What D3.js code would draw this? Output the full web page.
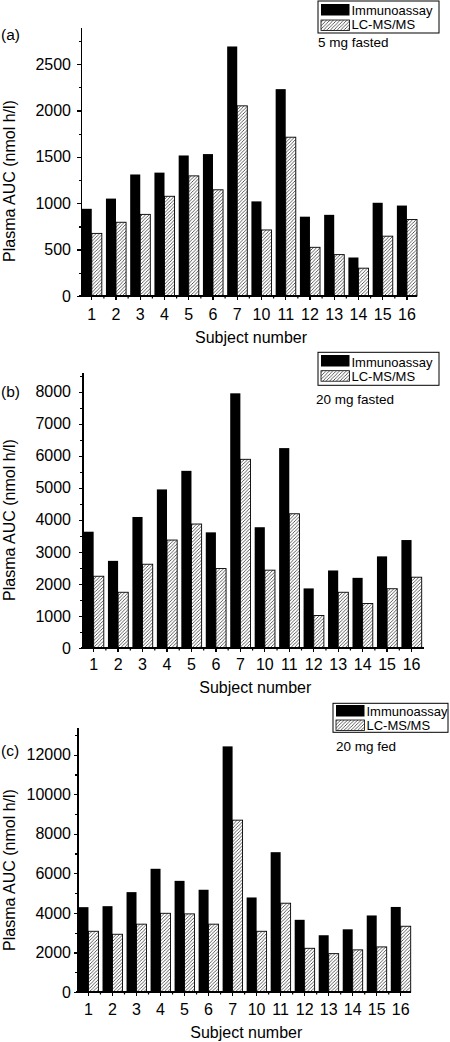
<!DOCTYPE html>
<meta charset="utf-8">
<style>
body { margin: 0; background: #fff; }
svg text { font-family: "Liberation Sans", Arial, Helvetica, sans-serif; fill: #000; }
.axis path, .axis line { stroke: #000; stroke-width: 1.3; shape-rendering: crispEdges; }
.axis text { font-size: 16px; }
</style>
<svg width="450" height="1042"></svg>
<script src="https://cdn.jsdelivr.net/npm/d3@7"></script>
<script>

// data
var subjects = ["1","2","3","4","5","6","7","10","11","12","13","14","15","16"];

var immunoA = [940, 1050, 1310, 1330, 1515, 1530, 2690, 1020, 2230, 855, 875, 415, 1005, 975];
var lcmsA   = [675, 795, 880, 1075, 1295, 1145, 2050, 712, 1712, 525, 446, 300, 645, 825];
var immunoB = [3630, 2720, 4090, 4950, 5530, 3610, 7950, 3770, 6240, 1860, 2420, 2190, 2860, 3370];
var lcmsB   = [2240, 1740, 2615, 3370, 3870, 2480, 5890, 2430, 4190, 1015, 1740, 1390, 1850, 2210];
var immunoC = [4290, 4340, 5050, 6230, 5620, 5170, 12420, 4780, 7070, 3650, 2870, 3170, 3870, 4300];
var lcmsC   = [3070, 2920, 3430, 3980, 3950, 3430, 8690, 3070, 4490, 2210, 1940, 2130, 2280, 3325];

var ticksA = [0, 500, 1000, 1500, 2000, 2500];
var ticksB = [0, 1000, 2000, 3000, 4000, 5000, 6000, 7000, 8000];
var ticksC = [0, 2000, 4000, 6000, 8000, 10000, 12000];

var seriesNames = ["Immunoassay", "LC-MS/MS"];
var panelLabels = ["(a)", "(b)", "(c)"];
var doseLabels = ["5 mg fasted", "20 mg fasted", "20 mg fed"];
var xTitle = "Subject number";
var yTitle = "Plasma AUC (nmol h/l)";

var svg = d3.select("svg");

// hatch for LC-MS/MS bars
var defs = svg.append("defs");
defs.append("pattern")
    .attr("id", "hatch")
    .attr("patternUnits", "userSpaceOnUse")
    .attr("width", 3.4).attr("height", 3.4)
  .append("path")
    .attr("d", "M-1,1 l2,-2 M0,3.4 l3.4,-3.4 M2.4,4.4 l2,-2")
    .attr("stroke", "#333")
    .attr("stroke-width", 0.8);

// layout of each panel (pixels)
var panels = [
  {imm: immunoA, lc: lcmsA, ticks: ticksA, yMax: 2900,
   axisX: 81, bar0: 81.7, bar1: 417, axisEnd: 417, top: 27, base: 296,
   labY: 40, yTitleC: 181, tickBase: 24, titleBase: 47,
   leg: {x: 318, y: 1, w: 121, h: 32, r1: 4, r2: 20, tb1: 15, tb2: 29}, doseX: 318, doseY: 47},
  {imm: immunoB, lc: lcmsB, ticks: ticksB, yMax: 8600,
   axisX: 82.5, bar0: 83.5, bar1: 421.7, axisEnd: 424, top: 372.5, base: 648,
   labY: 397, yTitleC: 520, tickBase: 22, titleBase: 45,
   leg: {x: 318, y: 352.3, w: 121, h: 33, r1: 355, r2: 370.7, tb1: 366.5, tb2: 380.5}, doseX: 316, doseY: 404},
  {imm: immunoC, lc: lcmsC, ticks: ticksC, yMax: 13400,
   axisX: 77.5, bar0: 78.5, bar1: 410.7, axisEnd: 411, top: 727, base: 992,
   labY: 756, yTitleC: 870, tickBase: 23, titleBase: 46,
   leg: {x: 333, y: 703.3, w: 115, h: 29, r1: 705, r2: 720, tb1: 716, tb2: 730}, doseX: 336, doseY: 751}
];

panels.forEach(function(p, i) {
  var g = svg.append("g");

  var x = d3.scaleBand().domain(subjects).range([p.bar0, p.bar1])
      .paddingInner(0.17).paddingOuter(0);
  var y = d3.scaleLinear().domain([0, p.yMax]).range([p.base, p.top]);
  var bw = x.bandwidth() / 2;
  var gap = x.step() - x.bandwidth();

  // bars
  g.append("g").selectAll("rect")
    .data(subjects)
    .enter().append("rect")
    .attr("x", function(d) { return x(d); })
    .attr("y", function(d, j) { return y(p.imm[j]); })
    .attr("width", bw)
    .attr("height", function(d, j) { return p.base - y(p.imm[j]); })
    .attr("fill", "#000");

  g.append("g").selectAll("rect")
    .data(subjects)
    .enter().append("rect")
    .attr("x", function(d) { return x(d) + bw; })
    .attr("y", function(d, j) { return y(p.lc[j]); })
    .attr("width", bw)
    .attr("height", function(d, j) { return p.base - y(p.lc[j]); })
    .attr("fill", "url(#hatch)")
    .attr("stroke", "#000")
    .attr("stroke-width", 0.9);

  // y axis, major + minor ticks
  var minor = [];
  for (var k = 1; k < p.ticks.length; k++) minor.push((p.ticks[k - 1] + p.ticks[k]) / 2);
  minor.push(p.ticks[p.ticks.length - 1] + (p.ticks[1] - p.ticks[0]) / 2);

  g.append("g")
    .attr("class", "axis")
    .attr("transform", "translate(" + p.axisX + ",0)")
    .call(d3.axisLeft(y).tickValues(p.ticks).tickSize(4).tickSizeOuter(0)
      .tickPadding(p.axisX - 4 - 71).tickFormat(d3.format("d")));

  g.append("g")
    .attr("class", "axis")
    .attr("transform", "translate(" + p.axisX + ",0)")
    .call(d3.axisLeft(y).tickValues(minor).tickSize(2.5).tickFormat(""))
    .select(".domain").remove();

  // x axis
  var xa = g.append("g")
    .attr("class", "axis")
    .attr("transform", "translate(0," + p.base + ")")
    .call(d3.axisBottom(x).tickSize(4).tickPadding(p.tickBase - 4 - 11.4));
  xa.select(".domain").remove();
  xa.append("line")
    .attr("x1", p.axisX - 2).attr("x2", p.axisEnd);

  g.append("g").selectAll("line")
    .data(subjects.slice(1))
    .enter().append("line")
    .attr("x1", function(d) { return x(d) - gap / 2; })
    .attr("x2", function(d) { return x(d) - gap / 2; })
    .attr("y1", p.base).attr("y2", p.base + 2.5)
    .attr("stroke", "#000").attr("stroke-width", 1.2);

  // titles
  g.append("text")
    .attr("x", (p.axisX + p.axisEnd) / 2 + 2)
    .attr("y", p.base + p.titleBase)
    .attr("text-anchor", "middle")
    .attr("font-size", 16)
    .text(xTitle);

  g.append("text")
    .attr("transform", "translate(15," + p.yTitleC + ") rotate(-90)")
    .attr("text-anchor", "middle")
    .attr("font-size", 16)
    .text(yTitle);

  g.append("text")
    .attr("x", 1).attr("y", p.labY)
    .attr("font-size", 15.5)
    .text(panelLabels[i]);

  // legend
  var L = p.leg;
  g.append("rect")
    .attr("x", L.x).attr("y", L.y).attr("width", L.w).attr("height", L.h)
    .attr("fill", "#fff").attr("stroke", "#000").attr("stroke-width", 1);
  g.append("rect")
    .attr("x", L.x + 3).attr("y", L.r1).attr("width", 28.5).attr("height", 11.5)
    .attr("fill", "#000");
  g.append("rect")
    .attr("x", L.x + 3).attr("y", L.r2).attr("width", 28.5).attr("height", 10.5)
    .attr("fill", "url(#hatch)").attr("stroke", "#000").attr("stroke-width", 0.8);
  g.append("text")
    .attr("x", L.x + 33.5).attr("y", L.tb1)
    .attr("font-size", 13).text(seriesNames[0]);
  g.append("text")
    .attr("x", L.x + 33.5).attr("y", L.tb2)
    .attr("font-size", 13).text(seriesNames[1]);

  g.append("text")
    .attr("x", p.doseX).attr("y", p.doseY)
    .attr("font-size", 13.5)
    .text(doseLabels[i]);
});

</script>
